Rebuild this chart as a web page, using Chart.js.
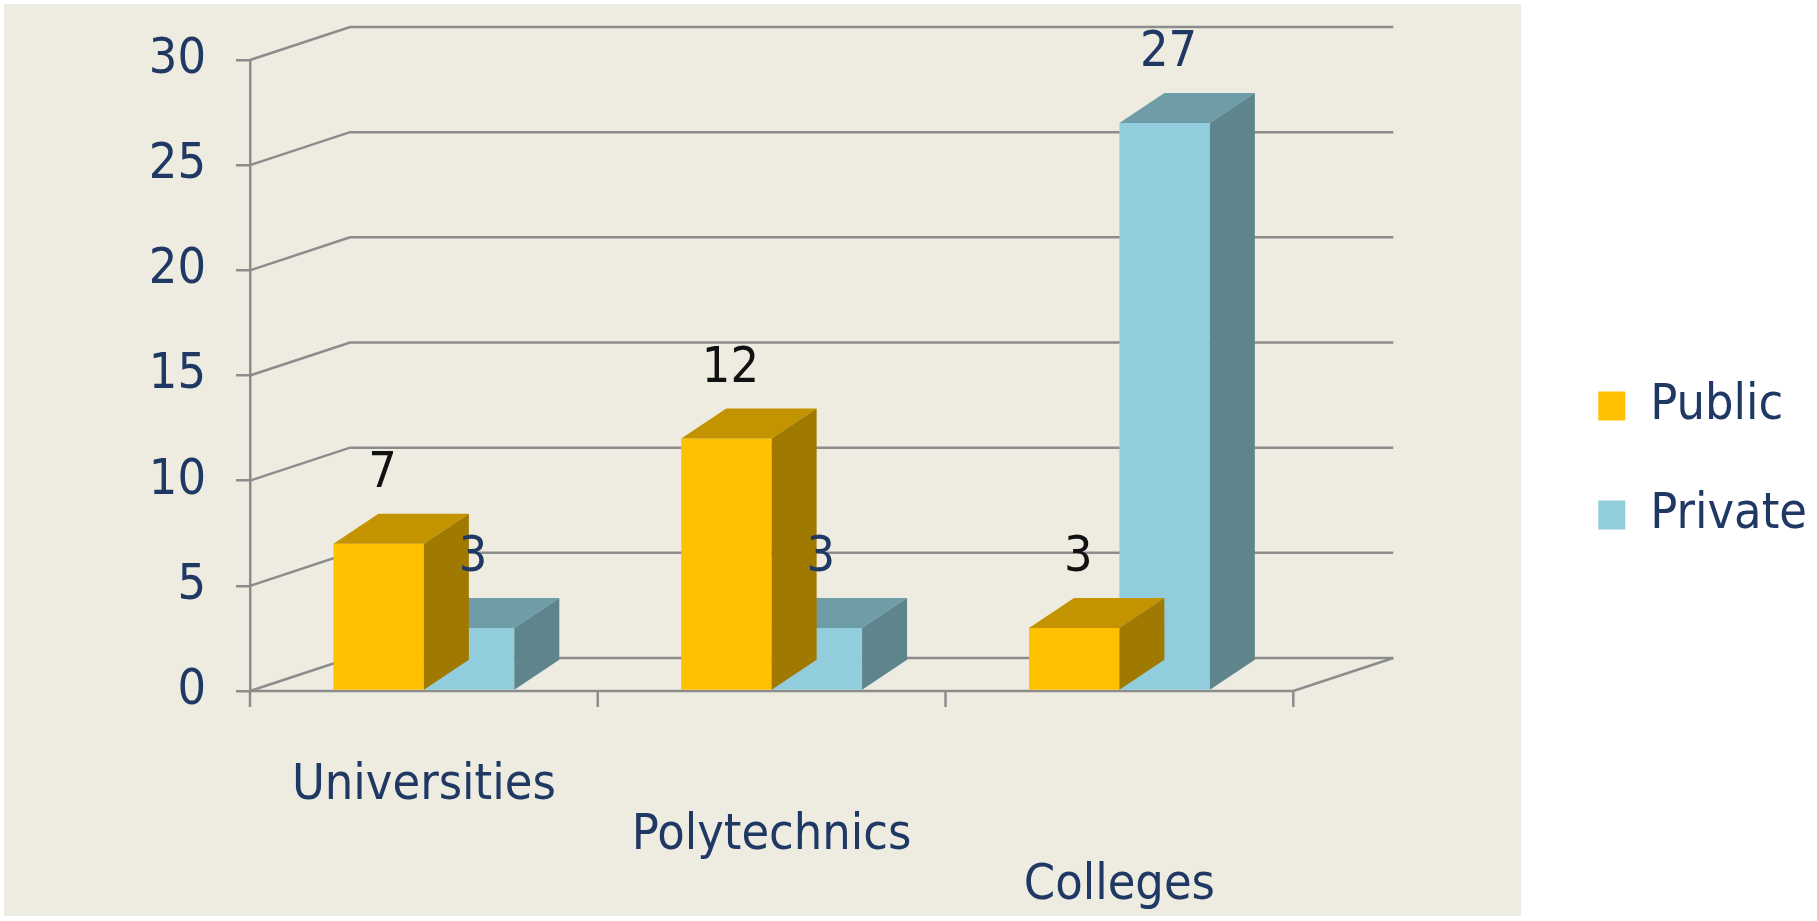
<!DOCTYPE html>
<html>
<head>
<meta charset="utf-8">
<script src="https://cdn.jsdelivr.net/npm/chart.js@4.4.1/dist/chart.umd.min.js"></script>
<style>
    html, body { margin: 0; padding: 0; background: #ffffff; }
    #wrap { width: 1817px; height: 921px; position: relative; }
</style>
</head>
<body>
<div id="wrap"><canvas id="instChart"></canvas></div>
<script>
const categories = ['Universities', 'Polytechnics', 'Colleges'];
const publicValues = [7, 12, 3];
const privateValues = [3, 3, 27];
const yTicks = { min: 0, max: 30, step: 5 };

const GRID = '#8c8c8c';
const TEXT = '#1f3864';
const WALL_DX = 100, WALL_DY = -33;   // back wall offset
const BAR_DX = 45, BAR_DY = -30;      // bar depth

const faces = [
    { top: '#c49300', side: '#a07a00', label: '#111111' },
    { top: '#6e9da8', side: '#5e848c', label: TEXT }
];

const threeD = {
    id: 'threeD',
    beforeDraw(chart) {
        const ctx = chart.ctx;
        ctx.save();
        ctx.fillStyle = '#eeece1';
        ctx.fillRect(4, 4, 1517, 912);
        ctx.restore();
    },
    beforeDatasetsDraw(chart) {
        const { ctx, chartArea: { left, right }, scales: { x, y } } = chart;
        ctx.save();
        ctx.strokeStyle = GRID;
        ctx.lineWidth = 2.5;
        y.ticks.forEach(function (t) {
            const py = y.getPixelForValue(t.value);
            ctx.beginPath();
            ctx.moveTo(left, py);
            ctx.lineTo(left + WALL_DX, py + WALL_DY);
            ctx.lineTo(right + WALL_DX, py + WALL_DY);
            ctx.stroke();
        });
        // floor edges
        const p0 = y.getPixelForValue(0);
        ctx.beginPath();
        ctx.moveTo(left, p0);
        ctx.lineTo(right, p0);
        ctx.lineTo(right + WALL_DX, p0 + WALL_DY);
        ctx.stroke();
        // category ticks on the front edge
        for (let i = 0; i <= categories.length; i++) {
            const px = x.getPixelForValue(i - 0.5);
            ctx.beginPath();
            ctx.moveTo(px, p0);
            ctx.lineTo(px, p0 + 16);
            ctx.stroke();
        }
        ctx.restore();
    },
    afterDatasetDraw(chart, args) {
        const ctx = chart.ctx;
        const f = faces[args.index];
        ctx.save();
        args.meta.data.forEach(function (el) {
            const p = el.getProps(['x', 'y', 'base', 'width'], true);
            const l = p.x - p.width / 2, r = p.x + p.width / 2;
            ctx.fillStyle = f.top;
            ctx.beginPath();
            ctx.moveTo(l, p.y);
            ctx.lineTo(l + BAR_DX, p.y + BAR_DY);
            ctx.lineTo(r + BAR_DX, p.y + BAR_DY);
            ctx.lineTo(r, p.y);
            ctx.closePath();
            ctx.fill();
            ctx.fillStyle = f.side;
            ctx.beginPath();
            ctx.moveTo(r, p.y);
            ctx.lineTo(r + BAR_DX, p.y + BAR_DY);
            ctx.lineTo(r + BAR_DX, p.base + BAR_DY);
            ctx.lineTo(r, p.base);
            ctx.closePath();
            ctx.fill();
        });
        ctx.restore();
    },
    afterDatasetsDraw(chart) {
        const ctx = chart.ctx;
        ctx.save();
        ctx.font = '50px ' + Chart.defaults.font.family;
        ctx.textAlign = 'center';
        ctx.textBaseline = 'middle';
        chart.data.datasets.forEach(function (ds, di) {
            ctx.fillStyle = faces[di].label;
            chart.getDatasetMeta(di).data.forEach(function (el, i) {
                const p = el.getProps(['x', 'y'], true);
                ctx.fillText(String(ds.data[i]), p.x + 4, p.y - 70);
            });
        });
        ctx.restore();
    }
};

Chart.defaults.font.family = "'Liberation Sans Narrow', 'DejaVu Sans Condensed', 'Open Sans', sans-serif";
Chart.defaults.font.size = 50;
Chart.defaults.color = TEXT;

const ctx = document.getElementById('instChart').getContext('2d');

new Chart(ctx, {
    type: 'bar',
    data: {
        labels: categories,
        datasets: [{
            label: 'Public',
            data: publicValues,
            backgroundColor: '#ffc000',
            borderWidth: 0
        }, {
            label: 'Private',
            data: privateValues,
            backgroundColor: '#92cddd',
            borderWidth: 0
        }]
    },
    options: {
        responsive: true,
        maintainAspectRatio: false,
        animation: false,
        datasets: { bar: { categoryPercentage: 0.52, barPercentage: 1.0 } },
        layout: { padding: 0 },
        plugins: {
            tooltip: { enabled: false },
            legend: {
                position: 'right',
                labels: {
                    boxWidth: 27,
                    boxHeight: 29,
                    padding: 59,
                    color: TEXT,
                    font: { size: 50 }
                }
            }
        },
        scales: {
            x: {
                grid: { display: false, drawTicks: false },
                border: { display: false },
                ticks: {
                    padding: 70,
                    maxRotation: 0,
                    font: { size: 50, lineHeight: 1 },
                    callback: function (val, i) {
                        const lines = [];
                        for (let k = 0; k < i; k++) lines.push('');
                        lines.push(this.getLabelForValue(val));
                        return lines;
                    }
                },
                afterFit: function (s) { s.height = 230; }
            },
            y: {
                min: yTicks.min,
                max: yTicks.max,
                ticks: { stepSize: yTicks.step, padding: 30, font: { size: 50 } },
                grid: { drawOnChartArea: false, drawTicks: true, tickLength: 14, color: GRID, lineWidth: 2.5 },
                border: { display: true, color: GRID, width: 2.5 },
                afterFit: function (s) { s.width = 250; }
            },
            topGap: {
                type: 'category',
                position: 'top',
                display: true,
                ticks: { display: false },
                grid: { display: false, drawTicks: false },
                border: { display: false },
                afterFit: function (s) { s.height = 60; }
            },
            gap: {
                position: 'right',
                display: true,
                ticks: { display: false },
                grid: { display: false, drawTicks: false },
                border: { display: false },
                afterFit: function (s) { s.width = 246; }
            }
        }
    },
    plugins: [threeD]
});
</script>
</body>
</html>
